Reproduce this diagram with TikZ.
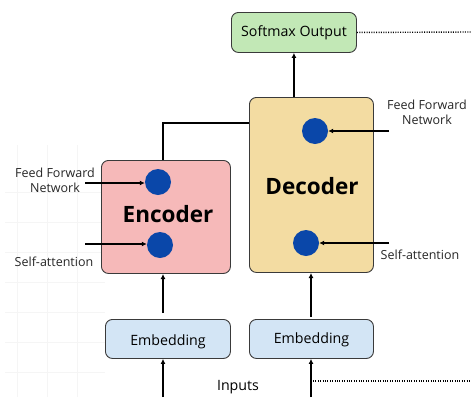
\documentclass[tikz,border=0pt]{standalone}
\usepackage{fontspec}
\setmainfont{Open Sans}
\usetikzlibrary{arrows.meta}
\definecolor{smgreen}{HTML}{C2E8B6}
\definecolor{decfill}{HTML}{F3DCA2}
\definecolor{encfill}{HTML}{F6B9B9}
\definecolor{embfill}{HTML}{D3E5F5}
\definecolor{dotblue}{HTML}{0A47A9}
\definecolor{boxline}{HTML}{3A3A3A}
\definecolor{gridc}{HTML}{F5F5F5}
\begin{document}
\begin{tikzpicture}[x=1pt,y=-1pt,
  box/.style={draw=boxline,line width=0.9pt,rounded corners=7pt,inner sep=0pt,anchor=north west},
  dot/.style={circle,fill=dotblue,minimum size=26pt,inner sep=0pt},
  arr/.style={-{Latex[length=5pt,width=5pt]},line width=1.5pt},
  conn/.style={line width=1.5pt},
  lbl/.style={font=\fontsize{12.5}{15}\selectfont,align=center,text=black!85},
  btxt/.style={font=\fontsize{14.2}{17}\selectfont},
  dotl/.style={line width=1.4pt,dash pattern=on 1pt off 1.4pt}]
\useasboundingbox (0,0) rectangle (471,397);
% faint grid
\foreach \gx in {17,47,77} \draw[gridc,line width=0.6pt] (\gx,145) -- (\gx,397);
\foreach \gy in {192,222,252,282,312,342,372} \draw[gridc,line width=0.6pt] (5,\gy) -- (105,\gy);
% boxes
\node[box,fill=smgreen,minimum width=125pt,minimum height=40pt] (sm) at (231,12) {};
\node[btxt] at (sm.center) {Softmax Output};
\node[box,fill=decfill,minimum width=124pt,minimum height=175pt] (dec) at (249,97) {};
\node[font=\bfseries\fontsize{22.5}{26}\selectfont] (dect) at (312,186) {Decoder};
\node[box,fill=encfill,minimum width=129pt,minimum height=113pt] (enc) at (101,160) {};
\node[font=\bfseries\fontsize{22.5}{26}\selectfont] (enct) at (168,214) {Encoder};
\node[box,fill=embfill,minimum width=125pt,minimum height=39pt] (emb1) at (105,319) {};
\node[btxt] at ([yshift=-3pt]emb1.center) {Embedding};
\node[box,fill=embfill,minimum width=124pt,minimum height=39pt] (emb2) at (249,319) {};
\node[btxt] at ([yshift=-0.5pt]emb2.center) {Embedding};
% dots
\node[dot] (dff) at (315,131) {};
\node[dot] (dsa) at (306,243) {};
\node[dot] (eff) at (158,182) {};
\node[dot] (esa) at (160,245) {};
% labels
\node[lbl] (ldff) at (427,112) {Feed Forward\\Network};
\node[lbl] (ldsa) at (420,255) {Self-attention};
\node[lbl] (leff) at (55,180) {Feed Forward\\Network};
\node[lbl] (lesa) at (54,262) {Self-attention};
\node[btxt] (inp) at (238,387) {Inputs};
% coordinates
\coordinate (cdff) at (389,131);
\coordinate (cdsa) at (389,243);
\coordinate (ceff) at (85,183);
\coordinate (cesa) at (85,244);
\coordinate (in1) at (163,397);
\coordinate (in2) at (311,397);
\coordinate (smr) at (471,32);
\coordinate (inr) at (471,381);
% arrows
\draw[arr] (cdff) -- (dff.east);
\draw[arr] (cdsa) -- (dsa.east);
\draw[arr] (ceff) -- (eff.west |- ceff);
\draw[arr] (cesa) -- (esa.west |- cesa);
\draw[arr] (dec.north -| sm.south) -- (sm.south);
\draw[conn] (163,160) -- (163,123) -- (dec.west |- 0,123);
\draw[arr] (163,313) -- (163,274);
\draw[arr] (311,317) -- (311,273);
\draw[arr] (in1) -- (in1 |- emb1.south);
\draw[arr] (in2) -- (in2 |- emb2.south);
\draw[dotl] (sm.east) -- (smr);
\draw[dotl] (313,381) -- (inr);
\end{tikzpicture}
\end{document}
